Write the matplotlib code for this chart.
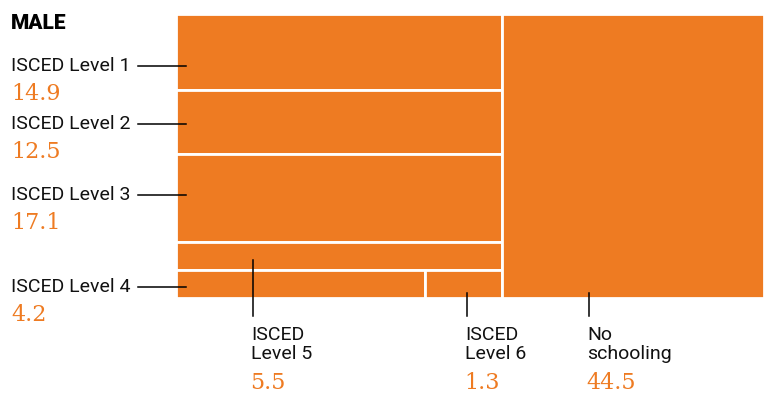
import matplotlib.pyplot as plt
from matplotlib.patches import Rectangle

# data
left_rows = [['ISCED Level 1'], ['ISCED Level 2'], ['ISCED Level 3'], ['ISCED Level 5'], ['ISCED Level 4', 'ISCED Level 6']]
right_rows = [['No schooling']]
values = {'ISCED Level 1': 14.9, 'ISCED Level 2': 12.5, 'ISCED Level 3': 17.1,
          'ISCED Level 4': 4.2, 'ISCED Level 5': 5.5, 'ISCED Level 6': 1.3,
          'No schooling': 44.5}
value_labels = {k: f'{v:.1f}' for k, v in values.items()}

orange = '#EE7B22'
label_font = 'Roboto'
num_font = 'DejaVu Serif'

fig = plt.figure(figsize=(7.64, 3.94), dpi=100)
ax = fig.add_axes([0, 0, 1, 1])
ax.set_xlim(0, 764)
ax.set_ylim(394, 0)
ax.axis('off')

# treemap area
X0, X1, Y0, Y1 = 176, 764, 14, 298
total = sum(values.values())
left_sum = sum(values[c] for r in left_rows for c in r)
left_w = (X1 - X0) * left_sum / total

rects = {}
def lay_column(rows, x, w):
    col_sum = sum(values[c] for r in rows for c in r)
    y = Y0
    for r in rows:
        row_sum = sum(values[c] for c in r)
        h = (Y1 - Y0) * row_sum / col_sum
        xx = x
        for c in r:
            cw = w * values[c] / row_sum
            rects[c] = (xx, y, cw, h)
            xx += cw
        y += h

lay_column(left_rows, X0, left_w)
lay_column(right_rows, X0 + left_w, X1 - X0 - left_w)

for c, (x, y, w, h) in rects.items():
    ax.add_patch(Rectangle((x, y), w, h, facecolor=orange, edgecolor='white', linewidth=2))

# left labels
left_labels = [('ISCED Level 1', 66), ('ISCED Level 2', 124), ('ISCED Level 3', 195), ('ISCED Level 4', 287)]
for name, ly in left_labels:
    ax.text(11, ly, name, fontsize=14, family=label_font, va='center', ha='left', color='#111111')
    ax.plot([138, 186], [ly, ly], color='black', lw=1.1)
    ax.text(11, ly + 34, value_labels[name], fontsize=16, family=num_font, va='baseline',
            ha='left', color=orange)

# bottom labels
bottom_labels = [('ISCED Level 5', 'ISCED\nLevel 5', 253, 260), ('ISCED Level 6', 'ISCED\nLevel 6', 467, 293),
                 ('No schooling', 'No\nschooling', 589, 293)]
for name, txt, lx, top in bottom_labels:
    ax.plot([lx, lx], [top, 316], color='black', lw=1.1)
    ax.text(lx - 2, 326, txt, fontsize=14, family=label_font, va='top', ha='left',
            color='#111111', linespacing=1.1)
    ax.text(lx - 3, 389, value_labels[name], fontsize=16, family=num_font, va='baseline',
            ha='left', color=orange)

ax.text(11, 29, 'MALE', fontsize=15, family=label_font, weight='heavy', va='baseline', ha='left')

fig.savefig('out.png', dpi=100)
